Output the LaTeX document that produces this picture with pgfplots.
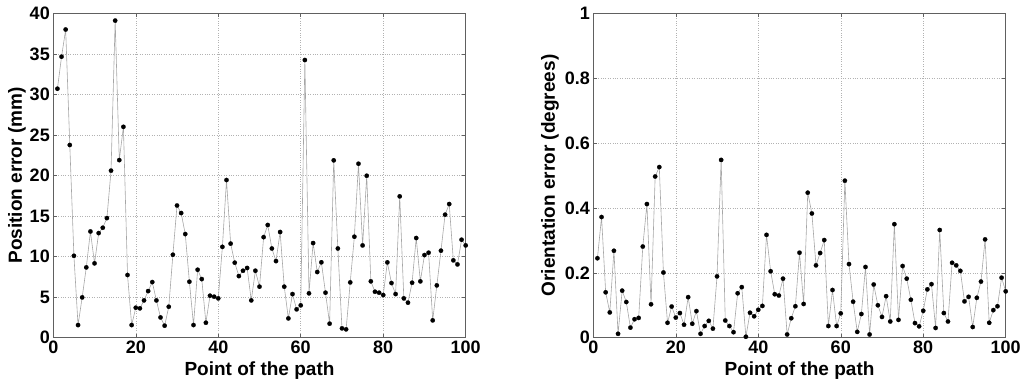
\documentclass[border=0pt]{standalone}
\usepackage{fontspec}
\setmainfont{Liberation Sans}
\usepackage{pgfplots}
\pgfplotsset{compat=1.18}
\usepackage{pgfplotstable}

\pgfplotstableread{
x y
1 30.7
2 34.65
3 38.0
4 23.76
5 10.1
6 1.56
7 4.97
8 8.67
9 13.1
10 9.17
11 12.9
12 13.56
13 14.75
14 20.6
15 39.1
16 21.9
17 26.0
18 7.73
19 1.56
20 3.7
21 3.62
22 4.6
23 5.75
24 6.86
25 4.6
26 2.5
27 1.48
28 3.82
29 10.23
30 16.3
31 15.37
32 12.78
33 6.9
34 1.56
35 8.38
36 7.23
37 1.85
38 5.18
39 5.06
40 4.85
41 11.2
42 19.44
43 11.6
44 9.25
45 7.6
46 8.26
47 8.6
48 4.6
49 8.26
50 6.29
51 12.4
52 13.9
53 11.0
54 9.45
55 13.03
56 6.29
57 2.38
58 5.38
59 3.5
60 3.99
61 34.24
62 5.47
63 11.67
64 8.1
65 9.3
66 5.55
67 1.73
68 21.87
69 11.0
70 1.15
71 1.03
72 6.82
73 12.45
74 21.45
75 11.38
76 19.97
77 6.95
78 5.67
79 5.55
80 5.26
81 9.29
82 6.74
83 5.38
84 17.43
85 4.85
86 4.32
87 6.78
88 12.29
89 6.95
90 10.19
91 10.48
92 2.14
93 6.45
94 10.73
95 15.17
96 16.48
97 9.54
98 9.04
99 12.08
100 11.38
}\posdata

\pgfplotstableread{
x y
1 0.245
2 0.372
3 0.14
4 0.078
5 0.268
6 0.012
7 0.145
8 0.11
9 0.031
10 0.057
11 0.061
12 0.281
13 0.412
14 0.103
15 0.497
16 0.526
17 0.201
18 0.046
19 0.096
20 0.062
21 0.076
22 0.04
23 0.125
24 0.043
25 0.082
26 0.012
27 0.036
28 0.052
29 0.028
30 0.189
31 0.548
32 0.053
33 0.036
34 0.017
35 0.137
36 0.156
37 0.003
38 0.077
39 0.066
40 0.086
41 0.098
42 0.317
43 0.205
44 0.134
45 0.13
46 0.182
47 0.01
48 0.06
49 0.097
50 0.262
51 0.104
52 0.447
53 0.383
54 0.223
55 0.261
56 0.301
57 0.036
58 0.147
59 0.036
60 0.075
61 0.484
62 0.227
63 0.111
64 0.018
65 0.073
66 0.218
67 0.01
68 0.164
69 0.1
70 0.064
71 0.128
72 0.05
73 0.35
74 0.055
75 0.221
76 0.182
77 0.117
78 0.045
79 0.035
80 0.083
81 0.149
82 0.165
83 0.03
84 0.332
85 0.076
86 0.05
87 0.231
88 0.223
89 0.206
90 0.112
91 0.126
92 0.033
93 0.123
94 0.173
95 0.303
96 0.046
97 0.085
98 0.097
99 0.185
100 0.143
}\oridata

\pgfplotsset{
  matstyle/.style={
    anchor=south west,
    width=412.4pt, height=324.4pt, scale only axis,
    xmin=0, xmax=100, xtick={0,20,40,60,80,100},
    grid=major,
    major grid style={dotted, gray!60, line width=0.5pt},
    axis line style={gray!75!black, line width=0.6pt},
    tick style={gray!75!black, line width=0.5pt},
    tick align=inside, major tick length=4pt,
    /pgf/number format/assume math mode=true,
    ticklabel style={font=\fontsize{18}{20}\selectfont\bfseries},
    label style={font=\fontsize{19}{22}\selectfont\bfseries},
    xlabel={Point of the path},
    xlabel style={at={(axis description cs:0.5,0)}, anchor=base, yshift=-37.3pt},
    clip=false,
  },
  datastyle/.style={
    color=gray!70, line width=0.6pt,
    mark=*, mark size=2.2pt,
    mark options={fill=black, draw=black, line width=0.2pt},
  },
}

\begin{document}
\begin{tikzpicture}
\useasboundingbox (0pt,0pt) rectangle (1024pt,386pt);
\begin{axis}[matstyle, at={(53.3pt,48.3pt)},
  ymin=0, ymax=40, ytick={0,5,10,15,20,25,30,35,40},
  ylabel={Position error (mm)},
  ylabel style={at={(axis description cs:-0.076,0.5)}, anchor=base},
]
\addplot[datastyle] table[x=x,y=y] {\posdata};
\end{axis}
\begin{axis}[matstyle, at={(593.3pt,48.3pt)},
  ymin=0, ymax=1, ytick={0,0.2,0.4,0.6,0.8,1},
  ylabel={Orientation error (degrees)},
  ylabel style={at={(axis description cs:-0.093,0.5)}, anchor=base},
]
\addplot[datastyle] table[x=x,y=y] {\oridata};
\end{axis}
\end{tikzpicture}
\end{document}
